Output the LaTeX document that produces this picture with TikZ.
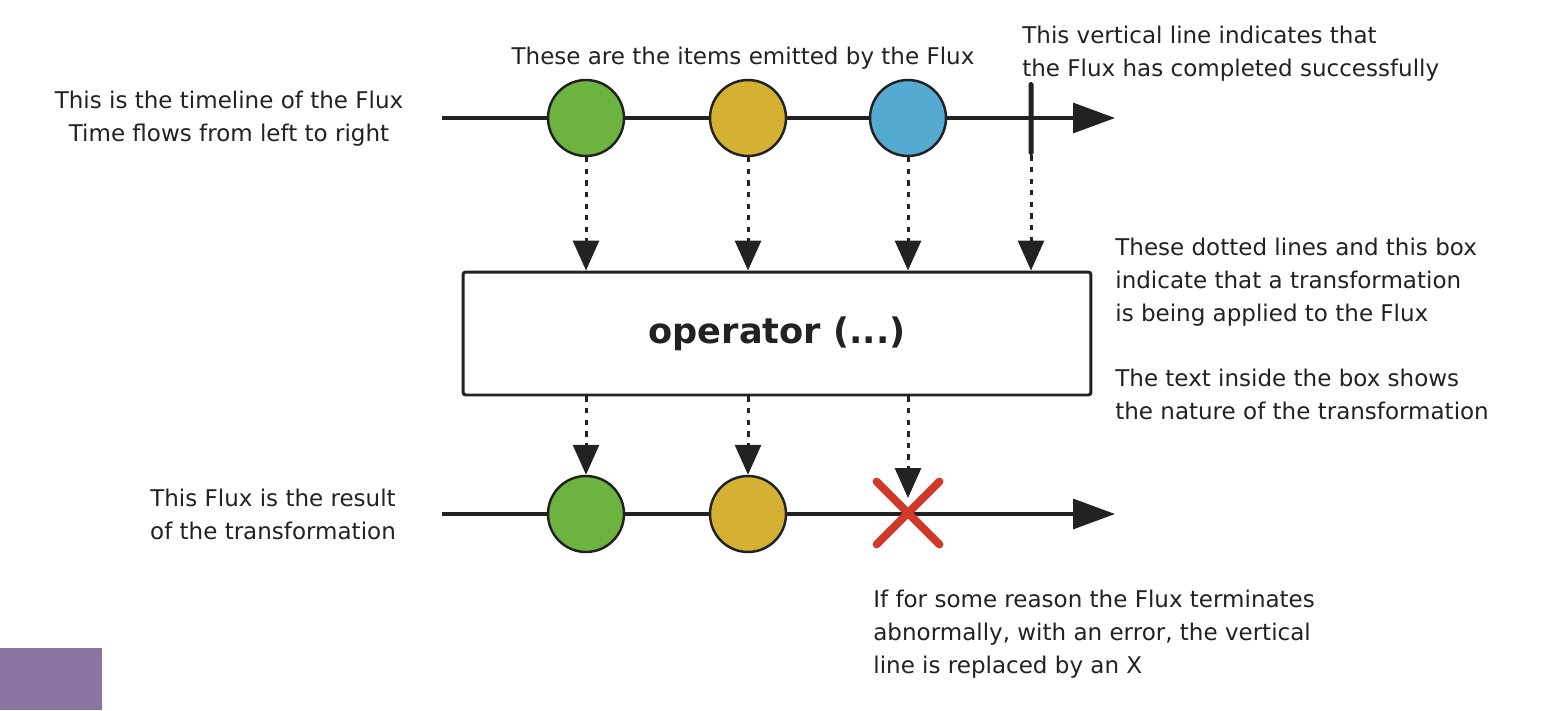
\documentclass[tikz,border=0pt]{standalone}
\usepackage{fontspec}
\setmainfont{DejaVu Sans}
\usetikzlibrary{arrows.meta,shapes.misc}
\definecolor{cgreen}{HTML}{6DB33F}
\definecolor{cyellow}{HTML}{D4B132}
\definecolor{cblue}{HTML}{55AAD2}
\definecolor{cred}{HTML}{D0392B}
\definecolor{ink}{HTML}{222222}
\definecolor{patch}{HTML}{8A76A0}
\tikzset{
  txt/.style={font=\fontsize{13.1pt}{18.7pt}\selectfont, text=ink, inner sep=0pt},
  timeline/.style={draw=ink, line width=1.8pt, -{Triangle[length=0.84cm,width=0.6cm]}},
  item/.style={circle, draw=ink, line width=1.4pt, minimum size=1.52cm, inner sep=0pt},
  dotarrow/.style={draw=ink, line width=1.7pt, dash pattern=on 3pt off 3.6pt,
     -{Triangle[length=0.6cm,width=0.52cm]}},
  opbox/.style={draw=ink, line width=1.7pt, rounded corners=1.5pt, minimum width=12.56cm,
     minimum height=2.46cm, font=\fontsize{20pt}{24pt}\selectfont\bfseries, text=ink},
  errx/.style={cross out, draw=cred, line width=4.5pt, line cap=round, minimum size=1.1cm, inner sep=0pt},
}
\begin{document}
\begin{tikzpicture}[x=0.02cm,y=-0.02cm]
\useasboundingbox (0,0) rectangle (1551,710);
\fill[patch] (0,648) rectangle (102,710);
% timelines
\coordinate (t1s) at (442,118);
\coordinate (t1e) at (1115,118);
\coordinate (t2s) at (442,514);
\coordinate (t2e) at (1115,514);
\draw[timeline] (t1s) -- (t1e);
\draw[timeline] (t2s) -- (t2e);
% top items
\node[item, fill=cgreen] (a1) at (586,118) {};
\node[item, fill=cyellow] (a2) at (748,118) {};
\node[item, fill=cblue] (a3) at (908,118) {};
\node[fill=ink, minimum width=0.1cm, minimum height=1.46cm, inner sep=0pt, rounded corners=1pt] (bar) at (1031,118.5) {};
% operator box
\node[opbox] (box) at (777,333.5) {operator (...)};
% bottom items
\node[item, fill=cgreen] (b1) at (586,514) {};
\node[item, fill=cyellow] (b2) at (748,514) {};
\coordinate (err) at (908,513);
% dotted arrows top
\draw[dotarrow] (a1.south) -- (a1.south |- box.north);
\draw[dotarrow] (a2.south) -- (a2.south |- box.north);
\draw[dotarrow] (a3.south) -- (a3.south |- box.north);
\draw[dotarrow] (bar.south) -- (bar.south |- box.north);
% dotted arrows bottom
\draw[dotarrow] (box.south -| b1) -- (b1.north);
\draw[dotarrow] (box.south -| b2) -- (b2.north);
\draw[dotarrow] (box.south -| err) -- ([yshift=0.3cm]err);
\node[errx] (x) at (err) {};
% texts (anchor base = baseline of last line)
\node[txt, align=center, anchor=base] (l1) at (229,141) {This is the timeline of the Flux\\Time flows from left to right};
\node[txt, anchor=base] (l2) at (743,64) {These are the items emitted by the Flux};
\node[txt, align=left, anchor=base west] (l3) at (1022,76) {This vertical line indicates that\\the Flux has completed successfully};
\node[txt, align=left, anchor=base west] (l4) at (1115,321) {These dotted lines and this box\\indicate that a transformation\\is being applied to the Flux};
\node[txt, align=left, anchor=base west] (l5) at (1115,419) {The text inside the box shows\\the nature of the transformation};
\node[txt, align=center, anchor=base] (l6) at (273,539) {This Flux is the result\\of the transformation};
\node[txt, align=left, anchor=base west] (l7) at (873,673) {If for some reason the Flux terminates\\abnormally, with an error, the vertical\\line is replaced by an X};
\end{tikzpicture}
\end{document}
